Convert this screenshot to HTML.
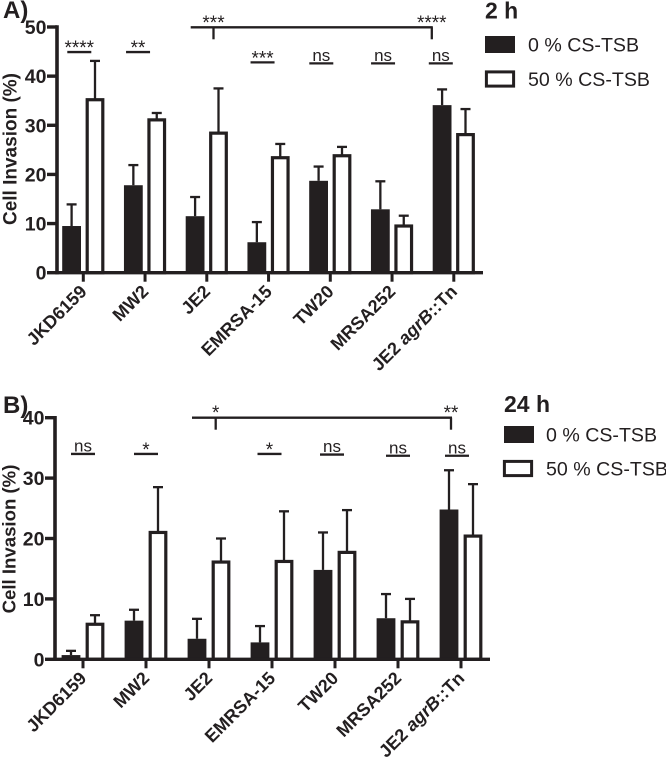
<!DOCTYPE html>
<html lang="en">
<head>
<meta charset="utf-8">
<title>Cell invasion at 2 h and 24 h</title>
<style>
html,body{margin:0;padding:0;background:#fff;width:666px;height:761px;overflow:hidden}
svg{display:block;font-family:"Liberation Sans",sans-serif;fill:#231f20;filter:blur(.35px)}
</style>
</head>
<body>
<svg id="chart" width="666" height="761" viewBox="0 0 666 761" xmlns="http://www.w3.org/2000/svg"></svg>
<script>
const categories = ['JKD6159', 'MW2', 'JE2', 'EMRSA-15', 'TW20', 'MRSA252', 'JE2 agrB::Tn'];
const seriesNames = ['0 % CS-TSB', '50 % CS-TSB'];

const ticksA = [0, 10, 20, 30, 40, 50];
const darkA = [9.5, 17.8, 11.5, 6.2, 18.7, 12.9, 34.1];
const darkTopA = [13.9, 21.9, 15.4, 10.3, 21.6, 18.6, 37.3];
const whiteA = [35.2, 31.1, 28.4, 23.4, 23.8, 9.5, 28.1];
const whiteTopA = [43.1, 32.5, 37.5, 26.2, 25.6, 11.6, 33.3];
const sigLabelsA = ['****', '**', '***', 'ns', 'ns', 'ns'];
const sigCatsA = [0, 1, 3, 4, 5, 6];
const sigLevelsA = [44.9, 44.9, 42.8, 42.6, 42.6, 42.6];
const bracketLabelsA = ['***', '****'];
const bracketCatsA = [2, 6];

const ticksB = [0, 10, 20, 30, 40];
const darkB = [0.7, 6.4, 3.4, 2.8, 14.8, 6.8, 24.8];
const darkTopB = [1.4, 8.2, 6.7, 5.5, 21.0, 10.8, 31.3];
const whiteB = [5.8, 21.0, 16.1, 16.2, 17.7, 6.2, 20.4];
const whiteTopB = [7.3, 28.5, 20.0, 24.5, 24.7, 10.0, 29.0];
const sigLabelsB = ['ns', '*', '*', 'ns', 'ns', 'ns'];
const sigCatsB = [0, 1, 3, 4, 5, 6];
const sigLevelsB = [34.0, 34.0, 34.0, 33.9, 33.7, 33.7];
const bracketLabelsB = ['*', '**'];
const bracketCatsB = [2, 6];

const INK = '#231f20';
const svg = document.getElementById('chart');

function add(tag, attrs, text) {
  const el = document.createElementNS('http://www.w3.org/2000/svg', tag);
  for (const k in attrs) el.setAttribute(k, attrs[k]);
  if (text !== undefined) el.textContent = text;
  svg.appendChild(el);
  return el;
}

function line(x1, y1, x2, y2, w) {
  return add('line', {x1: x1, y1: y1, x2: x2, y2: y2, stroke: INK, 'stroke-width': w});
}

function drawPanel(p) {
  const y = v => p.y0 - (v / p.yMax) * (p.y0 - p.yTop);
  const cx = i => p.cat0 + i * p.catStep;

  p.ticks.forEach(t => {
    const tick = line(p.axisX - 10, y(t), p.axisX, y(t), 3.4);
    
    
    const lab = add('text', {x: p.axisX - 10.5, y: y(t) + 7, 'text-anchor': 'end', 'font-size': 19.5, 'font-weight': 'bold'}, String(t));
    
    
  });

  categories.forEach((c, i) => {
    const xd = cx(i) - p.barOffset;
    const xw = cx(i) + p.barOffset;

    const eDark = line(xd, y(p.dark[i]), xd, y(p.darkTop[i]), 2.3);
    
    
    const cDark = line(xd - 5, y(p.darkTop[i]), xd + 5, y(p.darkTop[i]), 2.3);
    
    
    const eWhite = line(xw, y(p.white[i]), xw, y(p.whiteTop[i]), 2.3);
    
    
    const cWhite = line(xw - 5, y(p.whiteTop[i]), xw + 5, y(p.whiteTop[i]), 2.3);
    
    

    const barD = add('rect', {x: xd - 9.4, y: y(p.dark[i]), width: 18.8, height: p.y0 - y(p.dark[i]), fill: INK});
    
    
    const barW = add('rect', {x: xw - 7.8, y: y(p.white[i]), width: 15.6, height: p.y0 - y(p.white[i]), fill: '#fff', stroke: INK, 'stroke-width': 3.2});
    
    

    const t = line(cx(i), p.y0, cx(i), p.y0 + 9, 3);
    
    

    const lx = cx(i) + 4.5;
    const ly = p.y0 + 20;
    const lab = add('text', {x: lx, y: ly, 'text-anchor': 'end', 'font-size': 18, 'font-weight': 'bold', transform: 'rotate(-45 ' + lx + ' ' + ly + ')'});
    
    
    const m = c.match(/^(JE2 )(agrB)(::Tn)$/);
    if (m) {
      lab.appendChild(document.createTextNode(m[1]));
      const it = document.createElementNS('http://www.w3.org/2000/svg', 'tspan');
      it.setAttribute('font-style', 'italic');
      it.textContent = m[2];
      lab.appendChild(it);
      lab.appendChild(document.createTextNode(m[3]));
    } else {
      lab.textContent = c;
    }
  });

  const ax = line(p.axisX, y(p.yMax) - 1.7, p.axisX, p.y0 + 1.7, 3.6);
  
  
  const bx = line(p.axisX, p.y0, p.xEnd, p.y0, 3.4);
  
  

  const yt = add('text', {x: 0, y: 0, 'text-anchor': 'middle', 'font-size': p.titleSize, 'font-weight': 'bold', transform: 'translate(' + p.titleX + ' ' + p.titleY + ') rotate(-90)'}, 'Cell Invasion (%)');
  
  

  p.sigCats.forEach((c, i) => {
    const mid = cx(c) + p.sigShift[i];
    const ly = y(p.sigLevels[i]);
    const l = line(mid - 12, ly, mid + 12, ly, 2.3);
    
    
    const isNs = p.sigLabels[i] === 'ns';
    const s = add('text', {x: mid, y: ly + (isNs ? -2.5 : 2), 'text-anchor': 'middle', 'font-size': isNs ? 17 : 19}, p.sigLabels[i]);
    
    
  });

  const bl = p.bracketLeft;
  const b1 = cx(p.bracketCats[0]) + p.bracketShift;
  const b2 = cx(p.bracketCats[1]) + p.bracketShiftEnd;
  const h = line(bl, p.bracketY, b2 + 1, p.bracketY, 2.3);
  
  
  const d1 = line(b1, p.bracketY, b1, p.bracketY + 12, 2.3);
  
  
  const d2 = line(b2, p.bracketY, b2, p.bracketY + 12, 2.3);
  
  
  const t1 = add('text', {x: b1, y: p.bracketY + 1.5, 'text-anchor': 'middle', 'font-size': 19}, p.bracketLabels[0]);
  
  
  const t2 = add('text', {x: b2, y: p.bracketY + 1.5, 'text-anchor': 'middle', 'font-size': 19}, p.bracketLabels[1]);
  
  

  const pl = add('text', {x: 3, y: p.panelY, 'font-size': 24, 'font-weight': 'bold'}, p.panel);
  
  

  const lt = add('text', {x: p.legX, y: p.legTitleY, 'font-size': 23, 'font-weight': 'bold'}, p.legendTitle);
  
  
  const sw1 = add('rect', {x: p.legX, y: p.legY1, width: 30, height: 17, fill: INK});
  
  
  const sw2 = add('rect', {x: p.legX + p.legW2 + 1.4, y: p.legY2 + 1.4, width: 27.2, height: 14.2, fill: '#fff', stroke: INK, 'stroke-width': 3});
  
  
  const e1 = add('text', {x: p.legTextX, y: p.legY1 + 15.5, 'font-size': 19.6}, seriesNames[0]);
  
  
  const e2 = add('text', {x: p.legTextX, y: p.legY2 + 15.5, 'font-size': 19.6}, seriesNames[1]);
  
  
}

drawPanel({
  panel: 'A)', panelY: 18, legendTitle: '2 h',
  axisX: 57, y0: 272.7, yTop: 27, yMax: 50, xEnd: 483,
  cat0: 83.3, catStep: 61.75, barOffset: 11.7,
  ticks: ticksA, dark: darkA, darkTop: darkTopA, white: whiteA, whiteTop: whiteTopA,
  sigLabels: sigLabelsA, sigCats: sigCatsA, sigLevels: sigLevelsA, sigShift: [-4, -7, -6, -9, -9, -13],
  bracketLabels: bracketLabelsA, bracketCats: bracketCatsA, bracketLeft: 190.7, bracketY: 27.3, bracketShift: 6.7, bracketShiftEnd: -22,
  titleSize: 19, titleX: 16.5, titleY: 149,
  legX: 485, legTitleY: 18.5, legY1: 36, legY2: 70.5, legW2: 0, legTextX: 528
});

drawPanel({
  panel: 'B)', panelY: 413, legendTitle: '24 h',
  axisX: 55, y0: 659.3, yTop: 417.7, yMax: 40, xEnd: 490,
  cat0: 83, catStep: 63, barOffset: 12,
  ticks: ticksB, dark: darkB, darkTop: darkTopB, white: whiteB, whiteTop: whiteTopB,
  sigLabels: sigLabelsB, sigCats: sigCatsB, sigLevels: sigLevelsB, sigShift: [0, 0, -2.5, -3, -0, -4],
  bracketLabels: bracketLabelsB, bracketCats: bracketCatsB, bracketLeft: 192, bracketY: 417.7, bracketShift: 6.7, bracketShiftEnd: -10,
  titleSize: 18.6, titleX: 15.5, titleY: 539,
  legX: 504, legTitleY: 412, legY1: 426, legY2: 460, legW2: -1, legTextX: 546
});
</script>
</body>
</html>
